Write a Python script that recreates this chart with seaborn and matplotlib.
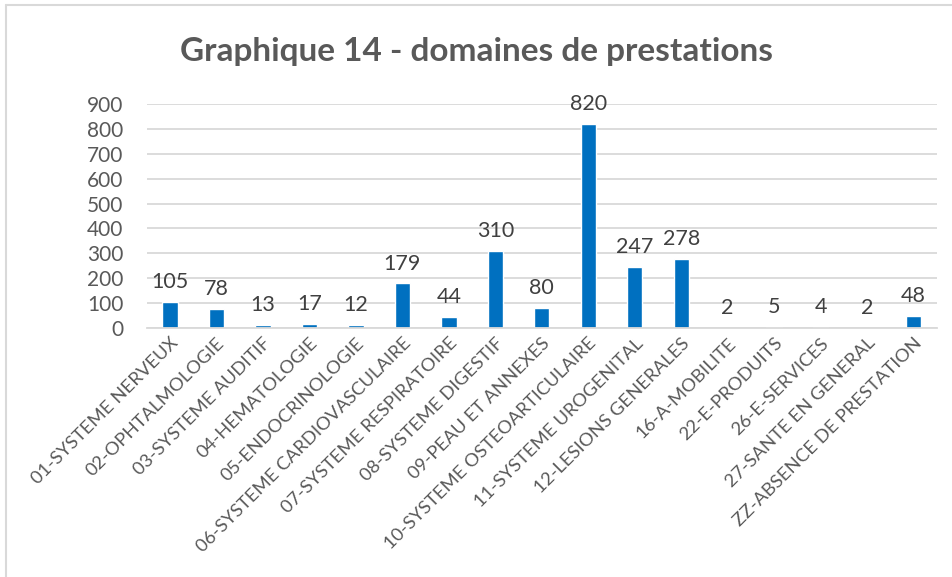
import matplotlib
matplotlib.use("Agg")
import matplotlib.pyplot as plt
import seaborn as sns
import pandas as pd
from matplotlib.lines import Line2D

categories = [
    "01-SYSTEME NERVEUX", "02-OPHTALMOLOGIE", "03-SYSTEME AUDITIF",
    "04-HEMATOLOGIE", "05-ENDOCRINOLOGIE", "06-SYSTEME CARDIOVASCULAIRE",
    "07-SYSTEME RESPIRATOIRE", "08-SYSTEME DIGESTIF", "09-PEAU ET ANNEXES",
    "10-SYSTEME OSTEOARTICULAIRE", "11-SYSTEME UROGENITAL", "12-LESIONS GENERALES",
    "16-A-MOBILITE", "22-E-PRODUITS", "26-E-SERVICES", "27-SANTE EN GENERAL",
    "ZZ-ABSENCE DE PRESTATION",
]
values = [105, 78, 13, 17, 12, 179, 44, 310, 80, 820, 247, 278, 2, 5, 4, 2, 48]
yticks = list(range(0, 1000, 100))

title = "Graphique 14 - domaines de prestations"

sns.set_theme(style="white")
plt.rcParams["font.family"] = ["Lato", "DejaVu Sans"]
text_col = "#595959"
bar_col = "#0070C0"

df = pd.DataFrame({"cat": categories, "val": values})

fig = plt.figure(figsize=(9.53, 5.77), dpi=100)
ax = fig.add_axes([0.154, 0.4315, 0.829, 0.3883])

sns.barplot(data=df, x="cat", y="val", color=bar_col, width=0.33,
            saturation=1, ax=ax)

ax.set_ylim(0, 900)
ax.set_yticks(yticks)
ax.set_yticklabels([str(t) for t in yticks], fontsize=15, color=text_col)
ax.set_xlim(-0.5, len(categories) - 0.5)
ax.set_xticks(range(len(categories)))
ax.set_xticklabels(categories, rotation=45, ha="right", rotation_mode="anchor",
                   fontsize=13.3, color=text_col)
ax.tick_params(axis="x", length=0, pad=5)
ax.tick_params(axis="y", length=0, pad=17)
ax.set_xlabel("")
ax.set_ylabel("")

ax.grid(axis="y", color="#D9D9D9", linewidth=1.3)
ax.set_axisbelow(True)
for s in ["top", "right", "left"]:
    ax.spines[s].set_visible(False)
ax.spines["bottom"].set_color("#D9D9D9")
ax.spines["bottom"].set_linewidth(1.3)

for i, v in enumerate(values):
    ax.annotate(str(v), (i, v), xytext=(0, 7), textcoords="offset points",
                ha="center", va="bottom", fontsize=15.5, color="#404040")

fig.text(0.5, 0.91, title, ha="center", va="center", fontsize=24,
         fontweight="bold", color=text_col)

# light frame around the chart (top and left edges visible)
fig.add_artist(Line2D([0.006, 1.0], [0.991, 0.991], color="#D9D9D9", lw=1.5,
                      transform=fig.transFigure))
fig.add_artist(Line2D([0.006, 0.006], [0.0, 0.991], color="#D9D9D9", lw=1.5,
                      transform=fig.transFigure))

fig.savefig("out.png", dpi=100, facecolor="white")
